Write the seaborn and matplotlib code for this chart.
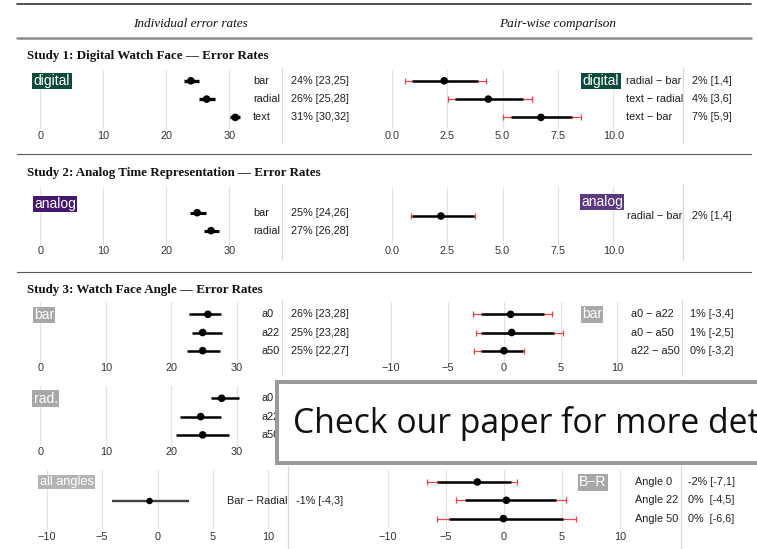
import numpy as np
import matplotlib
matplotlib.use("Agg")
import matplotlib.pyplot as plt
import matplotlib.transforms as mtransforms
from matplotlib.lines import Line2D
from matplotlib.patches import Rectangle
import seaborn as sns

# ---------------------------------------------------------------- data
# Study 1 - digital watch face
s1_conds = ["bar", "radial", "text"]
s1_mean = [23.9, 26.4, 30.95]
s1_lo = [22.75, 25.2, 30.05]
s1_hi = [25.2, 27.7, 31.75]
s1_text = ["24% [23,25]", "26% [25,28]", "31% [30,32]"]

s1_pairs = ["radial \u2212 bar", "text \u2212 radial", "text \u2212 bar"]
s1_diff = [2.36, 4.35, 6.73]
s1_dlo50 = [0.92, 2.85, 5.36]
s1_dhi50 = [3.9, 5.93, 8.15]
s1_dlo95 = [0.59, 2.52, 5.03]
s1_dhi95 = [4.25, 6.31, 8.52]
s1_dtext = ["2% [1,4]", "4% [3,6]", "7% [5,9]"]

# Study 2 - analog time representation
s2_conds = ["bar", "radial"]
s2_mean = [24.9, 27.1]
s2_lo = [23.8, 26.0]
s2_hi = [26.3, 28.4]
s2_text = ["25% [24,26]", "27% [26,28]"]

s2_pairs = ["radial \u2212 bar"]
s2_diff = [2.21]
s2_dlo50 = [0.9]
s2_dhi50 = [3.72]
s2_dlo95 = [0.87]
s2_dhi95 = [3.75]
s2_dtext = ["2% [1,4]"]

# Study 3 - watch face angle
s3_conds = ["a0", "a22", "a50"]
s3_bar_mean = [25.6, 24.8, 24.8]
s3_bar_lo = [22.75, 23.1, 22.4]
s3_bar_hi = [27.55, 27.7, 27.4]
s3_bar_text = ["26% [23,28]", "25% [23,28]", "25% [22,27]"]

s3_bar_pairs = ["a0 \u2212 a22", "a0 \u2212 a50", "a22 \u2212 a50"]
s3_bar_diff = [0.59, 0.68, 0.0]
s3_bar_dlo50 = [-2.06, -2.06, -2.06]
s3_bar_dhi50 = [3.54, 4.42, 1.68]
s3_bar_dlo95 = [-2.74, -2.44, -2.65]
s3_bar_dhi95 = [4.28, 5.26, 1.74]
s3_bar_dtext = ["1% [-3,4]", "1% [-2,5]", "0% [-3,2]"]

s3_rad_mean = [27.7, 24.5, 24.8]
s3_rad_lo = [26.0, 21.3, 20.7]
s3_rad_hi = [30.4, 27.55, 28.85]

# Study 3 - bar minus radial
all_pair = ["Bar \u2212 Radial"]
all_diff = [-0.72]
all_lo = [-4.12]
all_hi = [2.86]
all_text = ["-1% [-4,3]"]

br_angles = ["Angle 0", "Angle 22", "Angle 50"]
br_diff = [-2.3, 0.2, -0.05]
br_lo50 = [-5.8, -3.34, -4.78]
br_hi50 = [0.58, 4.45, 5.1]
br_lo95 = [-6.67, -4.1, -5.8]
br_hi95 = [1.15, 5.34, 6.2]
br_text = ["-2% [-7,1]", "0%  [-4,5]", "0%  [-6,6]"]

ticks_rate = [0, 10, 20, 30]
ticks_pos = [0.0, 2.5, 5.0, 7.5, 10.0]
ticks_pos_labels = ["0.0", "2.5", "5.0", "7.5", "10.0"]
ticks_diff = [-10, -5, 0, 5, 10]

# ---------------------------------------------------------------- style
W, H = 757, 549
sns.set_theme(style="white")
plt.rcParams["font.family"] = ["Liberation Sans", "DejaVu Sans"]
plt.rcParams["axes.unicode_minus"] = True

GRID = "#e3e3e3"
SEP = "#dadada"
RED = "#e8474c"
INK = "#1e1e1e"
TICK = "#333333"
FS = 7.8
GREEN = "#0b4a3c"
PURPLE_L = "#43186b"
PURPLE_R = "#5b3a82"
GREY_TAG = "#a8a8a8"
SERIF = ["Liberation Serif", "DejaVu Serif"]

fig = plt.figure(figsize=(W / 100, H / 100), dpi=100)
fig.patch.set_facecolor("white")


def fx(px):
    return px / W


def fy(py):
    return 1 - py / H


def panel(left, right, top, bottom, pa, va, pb, vb, row0, step, ticks,
          label_y, ticklabels=None):
    ax = fig.add_axes([fx(left), fy(bottom), (right - left) / W, (bottom - top) / H])
    scale = (pb - pa) / (vb - va)
    ax.set_xlim(va + (left - pa) / scale, va + (right - pa) / scale)
    ax.set_ylim((bottom - row0) / step, (top - row0) / step)
    ax.set_xticks(ticks)
    if ticklabels is not None:
        ax.set_xticklabels(ticklabels)
    ax.set_yticks([])
    ax.grid(axis="x", color=GRID, lw=0.9)
    ax.grid(axis="y", visible=False)
    ax.set_axisbelow(True)
    for s in ax.spines.values():
        s.set_visible(False)
    pad = max((label_y - bottom - 5.0) * 0.72, 0)
    ax.tick_params(axis="x", length=0, pad=pad, labelsize=FS, labelcolor=TICK)
    ax.patch.set_alpha(0)
    return ax


def row_text(ax, x_px, labels, color=INK):
    tr = mtransforms.blended_transform_factory(fig.transFigure, ax.transData)
    for i, t in enumerate(labels):
        ax.text(fx(x_px), i, t, transform=tr, ha="left", va="center",
                fontsize=FS, color=color, clip_on=False)


def rates(ax, mean, lo, hi, lw=2.2, size=26, color="black"):
    y = np.arange(len(mean))
    ax.hlines(y, lo, hi, color=color, lw=lw, zorder=2)
    sns.scatterplot(x=mean, y=y, ax=ax, color="black", s=size,
                    edgecolor="none", legend=False, zorder=3)


def diffs(ax, mean, lo50, hi50, lo95, hi95):
    y = np.arange(len(mean))
    ax.hlines(y, lo95, hi95, color=RED, lw=0.9, zorder=2)
    ax.plot(lo95, y, ls="none", marker="|", ms=4, mew=0.9, color=RED, zorder=2)
    ax.plot(hi95, y, ls="none", marker="|", ms=4, mew=0.9, color=RED, zorder=2)
    ax.hlines(y, lo50, hi50, color="black", lw=1.8, zorder=3)
    sns.scatterplot(x=mean, y=y, ax=ax, color="black", s=30,
                    edgecolor="none", legend=False, zorder=4)


def hline(y, color, lw, x0=17, x1=751):
    fig.add_artist(Line2D([fx(x0), fx(x1)], [fy(y), fy(y)], color=color, lw=lw,
                          transform=fig.transFigure))


def vline(x, y0, y1, color=SEP, lw=0.9):
    fig.add_artist(Line2D([fx(x), fx(x)], [fy(y0), fy(y1)], color=color, lw=lw,
                          transform=fig.transFigure))


def tag(x, y, text, bg, fs=10):
    fig.text(fx(x), fy(y), text, ha="center", va="center", fontsize=fs,
             color="white", zorder=6,
             bbox=dict(boxstyle="square,pad=0.1", fc=bg, ec="none"))


def title(y, text):
    fig.text(fx(27), fy(y), text, ha="left", va="center", fontsize=9.4,
             fontweight="bold", family=SERIF, color="#111111")


# ---------------------------------------------------------------- header rules
hline(4, "#333333", 1.2)
hline(38, "#8c8c8c", 1.8)
hline(154, "#555555", 0.8)
hline(272, "#555555", 0.8)
fig.text(fx(190.5), fy(24), "Individual error rates", ha="center", va="center",
         fontsize=9.5, style="italic", family=SERIF, color="#111111")
fig.text(fx(558), fy(24), "Pair-wise comparison", ha="center", va="center",
         fontsize=9.5, style="italic", family=SERIF, color="#111111")

# ---------------------------------------------------------------- study 1
title(56, "Study 1: Digital Watch Face \u2014 Error Rates")
ax = panel(30, 250, 70, 129, 40.3, 0, 229.3, 30, 80.8, 18.3, ticks_rate, 136)
rates(ax, s1_mean, s1_lo, s1_hi, lw=2.4, size=30)
row_text(ax, 253, s1_conds)
row_text(ax, 291, s1_text)
vline(282, 68, 143)
tag(52, 81, "digital", GREEN)

ax = panel(385, 622, 70, 129, 392, 0, 613.3, 10, 80.8, 18.3, ticks_pos, 136,
           ticks_pos_labels)
diffs(ax, s1_diff, s1_dlo50, s1_dhi50, s1_dlo95, s1_dhi95)
row_text(ax, 626, s1_pairs)
row_text(ax, 692, s1_dtext)
vline(683, 68, 143)
tag(601, 81, "digital", GREEN)

# ---------------------------------------------------------------- study 2
title(173, "Study 2: Analog Time Representation \u2014 Error Rates")
ax = panel(30, 250, 187, 245, 40.3, 0, 229.3, 30, 212.7, 18.0, ticks_rate, 251)
rates(ax, s2_mean, s2_lo, s2_hi, lw=2.2, size=30)
row_text(ax, 253, s2_conds)
row_text(ax, 291, s2_text)
vline(282, 184, 260)
tag(55, 204, "analog", PURPLE_L)

ax = panel(385, 622, 187, 245, 392, 0, 613.3, 10, 216, 18.0, ticks_pos, 251,
           ticks_pos_labels)
diffs(ax, s2_diff, s2_dlo50, s2_dhi50, s2_dlo95, s2_dhi95)
row_text(ax, 627, s2_pairs)
row_text(ax, 692, s2_dtext)
vline(683, 184, 260)
tag(602, 202, "analog", PURPLE_R)

# ---------------------------------------------------------------- study 3
title(290, "Study 3: Watch Face Angle \u2014 Error Rates")
ax = panel(30, 250, 302, 362, 40.3, 0, 236.7, 30, 314.3, 18.2, ticks_rate, 368)
rates(ax, s3_bar_mean, s3_bar_lo, s3_bar_hi, lw=1.8, size=30)
row_text(ax, 261, s3_conds)
row_text(ax, 291, s3_bar_text)
vline(282, 300, 376)
tag(44, 315, "bar", GREY_TAG)

ax = panel(385, 625, 302, 362, 391, -10, 617, 10, 314.3, 18.2, ticks_diff, 368)
diffs(ax, s3_bar_diff, s3_bar_dlo50, s3_bar_dhi50, s3_bar_dlo95, s3_bar_dhi95)
row_text(ax, 631, s3_bar_pairs)
row_text(ax, 690, s3_bar_dtext)
vline(682, 300, 376)
tag(592, 314.5, "bar", GREY_TAG)

ax = panel(30, 250, 386, 446, 40.3, 0, 236.7, 30, 398.3, 18.3, ticks_rate, 452)
rates(ax, s3_rad_mean, s3_rad_lo, s3_rad_hi, lw=1.8, size=30)
row_text(ax, 261, s3_conds)
tag(45.7, 398.7, "rad.", GREY_TAG)

# bar minus radial, pooled and per angle
ax = panel(40, 275, 470, 529, 46.7, -10, 268.3, 10, 501, 18.0, ticks_diff, 537)
rates(ax, all_diff, all_lo, all_hi, lw=1.7, size=22, color="#404040")
row_text(ax, 227, all_pair)
row_text(ax, 296, all_text)
vline(288, 466, 549)
tag(66.5, 482, "all angles", "#b4b4b4", fs=9.2)

ax = panel(380, 625, 470, 529, 388, -10, 620, 10, 482, 18.3, ticks_diff, 537)
diffs(ax, br_diff, br_lo50, br_hi50, br_lo95, br_hi95)
row_text(ax, 635, br_angles)
row_text(ax, 688, br_text)
vline(681, 466, 549)
tag(593, 482.5, "B\u2212R", GREY_TAG)

# ---------------------------------------------------------------- call-out box
box = Rectangle((fx(277), fy(463)), fx(800) - fx(277), fy(382) - fy(463),
                transform=fig.transFigure, facecolor="white", edgecolor="#9a9a9a",
                lw=2.9, zorder=10)
fig.add_artist(box)
fig.text(fx(293), fy(433), "Check our paper for more details", ha="left",
         va="baseline", fontsize=24.3, family=["Open Sans", "DejaVu Sans"],
         color="#111111", zorder=11)

fig.savefig("out.png", dpi=100, facecolor="white")
